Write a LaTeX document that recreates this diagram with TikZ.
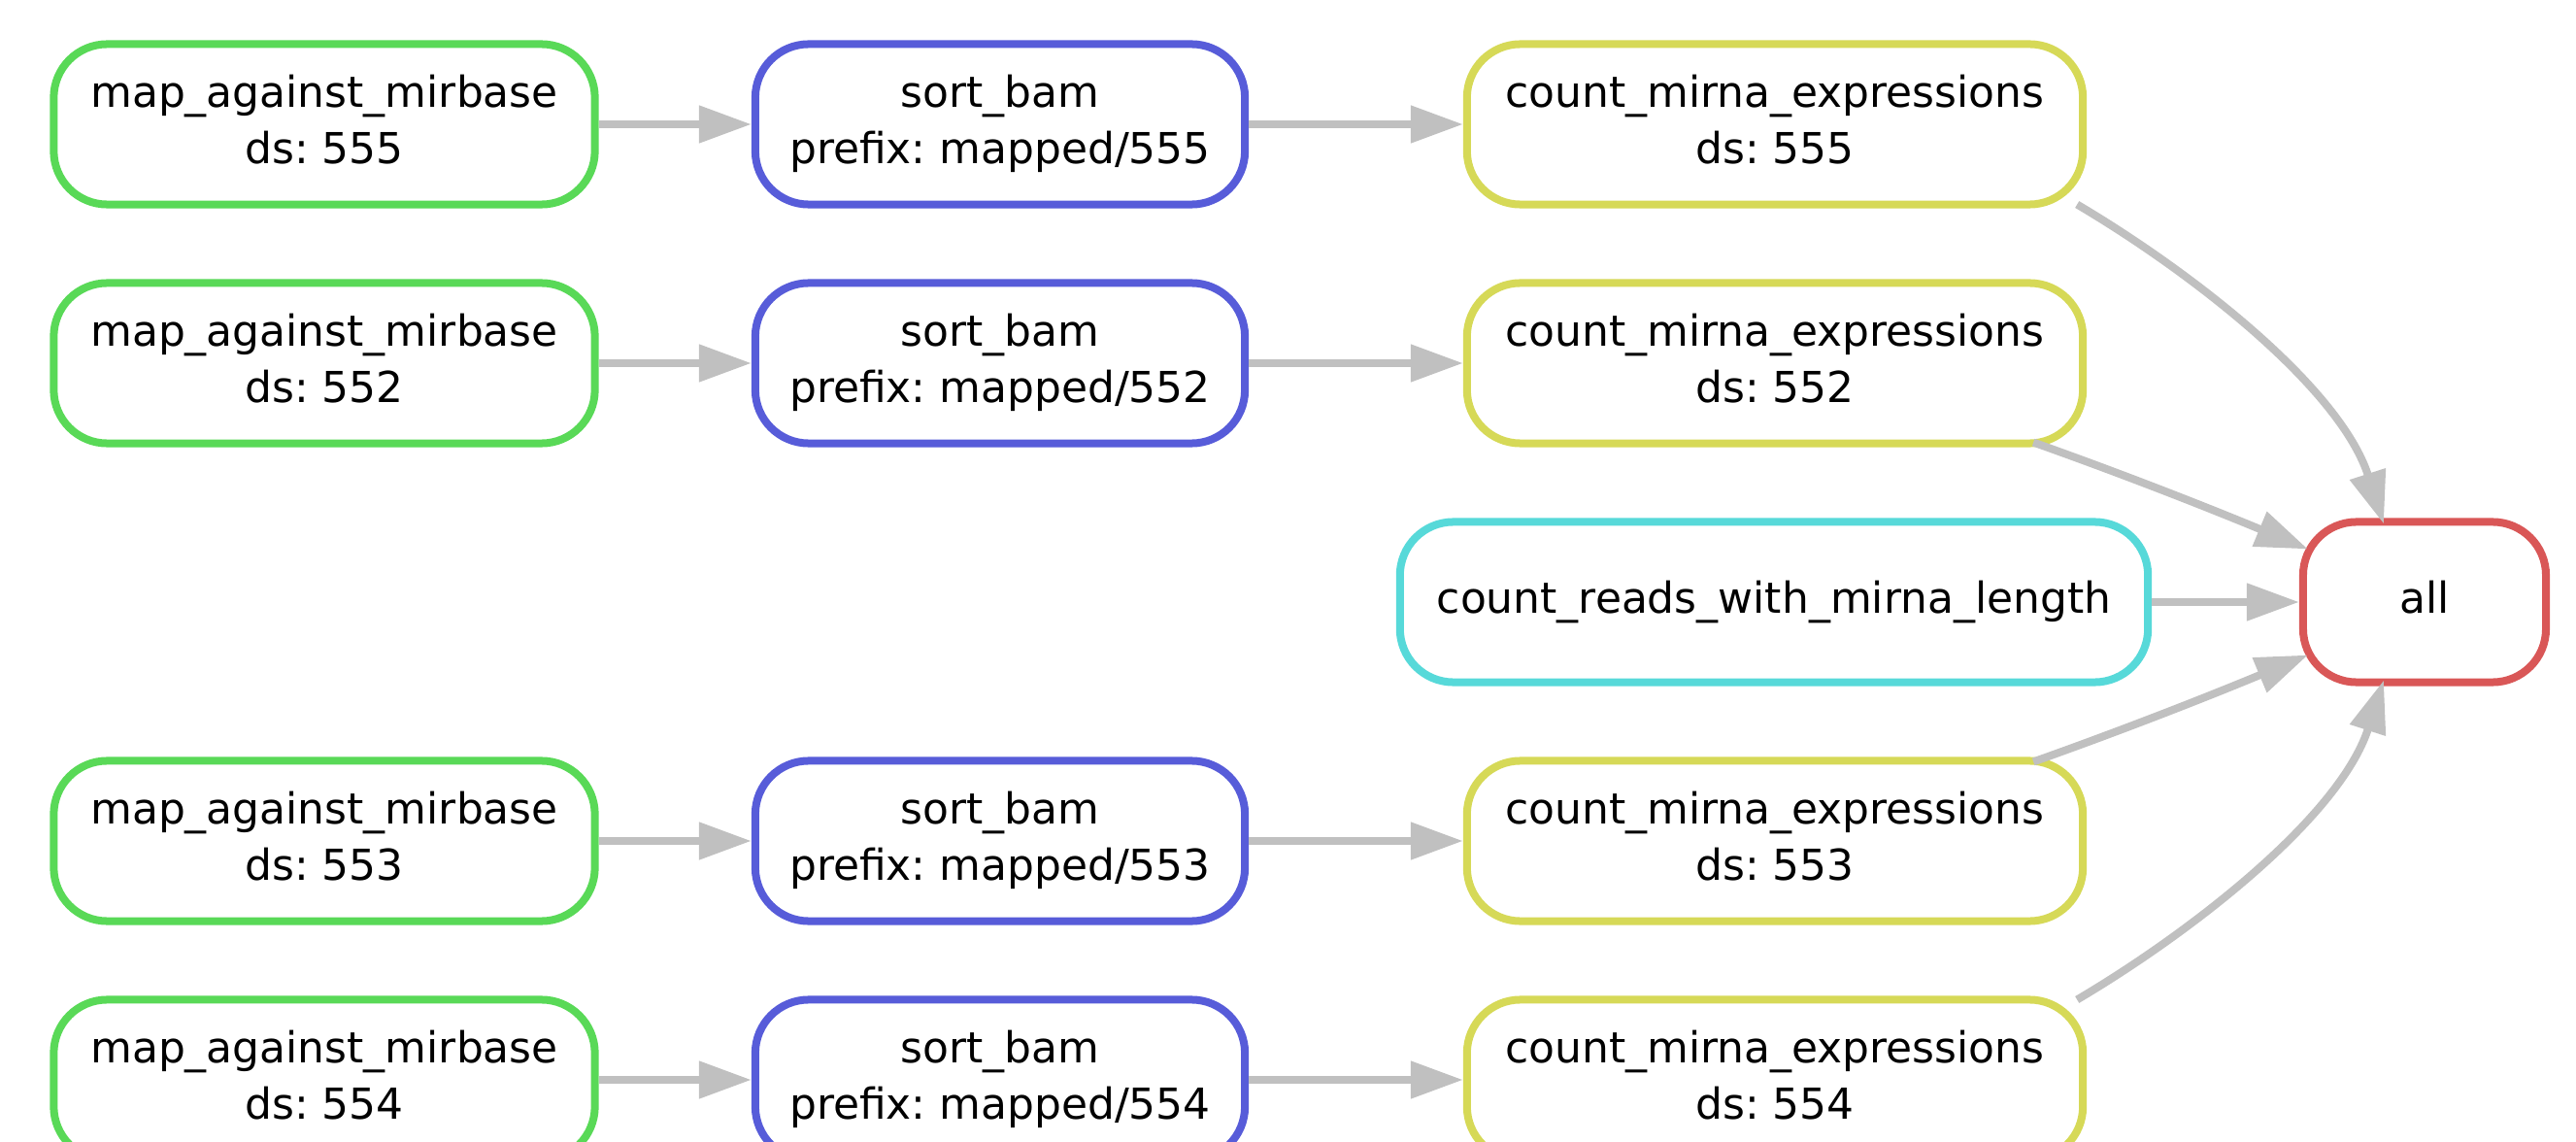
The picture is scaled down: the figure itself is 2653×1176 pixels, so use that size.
\documentclass[tikz,border=0pt]{standalone}
\usepackage{fontspec}
\setmainfont{DejaVu Sans}
\usetikzlibrary{calc,arrows.meta}
\definecolor{rulegreen}{HTML}{59D957}
\definecolor{ruleblue}{HTML}{575CD9}
\definecolor{ruleyellow}{HTML}{D6D957}
\definecolor{rulecyan}{HTML}{57D9D9}
\definecolor{rulered}{HTML}{D95757}
\definecolor{edgegrey}{HTML}{C0C0C0}
\frenchspacing
\tikzset{
	rulebox/.style={draw=#1, rectangle, rounded corners=0.55cm, line width=0.08cm, fill=white, align=center, inner sep=0pt, minimum height=1.65cm, text depth=0.1cm},
	dep/.style={draw=edgegrey, line width=0.08cm, -{Triangle[length=0.54cm,width=0.37cm]}},
}

\begin{document}
\begin{tikzpicture}[x=0.01cm, y=-0.01cm, font=\fontsize{12.5}{16.5}\selectfont]
			%%%%% START %%%%%
			\useasboundingbox (0,0) rectangle (2653,1176);
			\clip (0,0) rectangle (2653,1176);
			
			\node[rulebox=rulegreen, minimum width=5.57cm] (map555) at (334,128) {map\_against\_mirbase\\ds: 555};
			\node[rulebox=ruleblue, minimum width=5.04cm] (sort555) at (1030,128) {sort\_bam\\prefix: mapped/555};
			\node[rulebox=ruleyellow, minimum width=6.34cm] (count555) at (1828,128) {count\_mirna\_expressions\\ds: 555};
			
			\node[rulebox=rulegreen, minimum width=5.57cm] (map552) at (334,374) {map\_against\_mirbase\\ds: 552};
			\node[rulebox=ruleblue, minimum width=5.04cm] (sort552) at (1030,374) {sort\_bam\\prefix: mapped/552};
			\node[rulebox=ruleyellow, minimum width=6.34cm] (count552) at (1828,374) {count\_mirna\_expressions\\ds: 552};
			
			\node[rulebox=rulecyan, minimum width=7.70cm] (reads) at (1827,620) {count\_reads\_with\_mirna\_length};
			\node[rulebox=rulered, minimum width=2.50cm] (all) at (2497,620) {all};
			
			\node[rulebox=rulegreen, minimum width=5.57cm] (map553) at (334,866) {map\_against\_mirbase\\ds: 553};
			\node[rulebox=ruleblue, minimum width=5.04cm] (sort553) at (1030,866) {sort\_bam\\prefix: mapped/553};
			\node[rulebox=ruleyellow, minimum width=6.34cm] (count553) at (1828,866) {count\_mirna\_expressions\\ds: 553};
			
			\node[rulebox=rulegreen, minimum width=5.57cm] (map554) at (334,1112) {map\_against\_mirbase\\ds: 554};
			\node[rulebox=ruleblue, minimum width=5.04cm] (sort554) at (1030,1112) {sort\_bam\\prefix: mapped/554};
			\node[rulebox=ruleyellow, minimum width=6.34cm] (count554) at (1828,1112) {count\_mirna\_expressions\\ds: 554};
			
			% straight edges
			\draw[dep] (map555) -- (sort555);
			\draw[dep] (sort555) -- (count555);
			\draw[dep] (map552) -- (sort552);
			\draw[dep] (sort552) -- (count552);
			\draw[dep] (map553) -- (sort553);
			\draw[dep] (sort553) -- (count553);
			\draw[dep] (map554) -- (sort554);
			\draw[dep] (sort554) -- (count554);
			\draw[dep] (reads) -- (all);
			
			% into all
			\draw[dep] ($(count555.south east)+(-10,-4)$) .. controls (2260,282) and (2410,400) .. ($(all.north)+(-42,6)$);
			\draw[dep] ($(count552.south east)+(-55,-5)$) .. controls (2194,491) and (2282,526) .. ($(all.north west)+(9,32)$);
			\draw[dep] ($(count553.north east)+(-55,5)$) .. controls (2194,749) and (2282,714) .. ($(all.south west)+(9,-32)$);
			\draw[dep] ($(count554.north east)+(-10,4)$) .. controls (2260,958) and (2410,840) .. ($(all.south)+(-42,-6)$);
			
			%%%%% END %%%%%
\end{tikzpicture}
\end{document}
